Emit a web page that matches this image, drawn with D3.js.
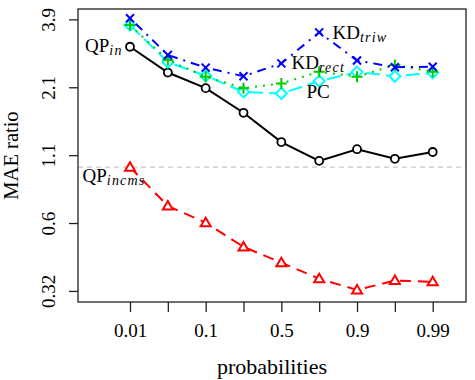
<!DOCTYPE html>
<html>
<head>
<meta charset="utf-8">
<script src="https://cdn.jsdelivr.net/npm/d3@7"></script>
<style>
    body { margin: 0; background: #fff; }
    text { font-family: "Liberation Serif", "DejaVu Serif", serif; fill: #000; }
</style>
</head>
<body>
<div id="chart"></div>
<script>
// chart values
var probs = ["0.01", "0.05", "0.1", "0.25", "0.5", "0.75", "0.9", "0.95", "0.99"];
var shownProbs = ["0.01", "0.1", "0.5", "0.9", "0.99"];
var yTicks = [0.32, 0.598, 1.117, 2.087, 3.9];
var yTickLabels = ["0.32", "0.6", "1.1", "2.1", "3.9"];

var qpIn = [3.03, 2.39, 2.07, 1.65, 1.26, 1.06, 1.18, 1.08, 1.15];
var qpIncms = [1.0, 0.70, 0.60, 0.48, 0.415, 0.358, 0.323, 0.352, 0.348];
var pc = [3.70, 2.63, 2.32, 2.00, 1.97, 2.21, 2.40, 2.31, 2.385];
var kdRect = [3.70, 2.68, 2.30, 2.07, 2.16, 2.41, 2.30, 2.56, 2.41];
var kdTriw = [3.94, 2.81, 2.50, 2.31, 2.60, 3.46, 2.67, 2.51, 2.52];

var svgWidth = 475;
var svgHeight = 380;

var box = { left: 78, right: 466, top: 9, bottom: 302 };

var svg = d3.select("#chart")
    .append("svg")
    .attr("width", svgWidth)
    .attr("height", svgHeight);

var xScale = d3.scaleLinear()
    .domain([0, probs.length - 1])
    .range([130, 432.7]);

var yScale = d3.scaleLog()
    .domain([0.289, 4.29])
    .range([box.bottom, box.top]);

// reference line at ratio 1
svg.append("line")
    .attr("x1", box.left)
    .attr("x2", box.right)
    .attr("y1", yScale(1))
    .attr("y2", yScale(1))
    .attr("stroke", "#c8c8c8")
    .attr("stroke-width", 1.3)
    .attr("stroke-dasharray", "5,4");

var series = [
    { values: qpIn, color: "#000000", dash: null, mark: "circle" },
    { values: qpIncms, color: "#ff0000", dash: "11,7", mark: "triangle" },
    { values: pc, color: "#00ffff", dash: "14,6", mark: "diamond" },
    { values: kdRect, color: "#00cd00", dash: "2,6", mark: "plus" },
    { values: kdTriw, color: "#0000ff", dash: "2,6,9,6", mark: "cross" }
];

function markPath(kind, cx, cy) {
    if (kind === "triangle") {
        return `M${cx - 5},${cy + 3.5}L${cx + 5},${cy + 3.5}L${cx},${cy - 5}Z`;
    }
    if (kind === "diamond") {
        return `M${cx},${cy - 5.5}L${cx + 5.5},${cy}L${cx},${cy + 5.5}L${cx - 5.5},${cy}Z`;
    }
    if (kind === "plus") {
        return `M${cx - 5.5},${cy}L${cx + 5.5},${cy}M${cx},${cy - 5.5}L${cx},${cy + 5.5}`;
    }
    // cross
    return `M${cx - 4},${cy - 4}L${cx + 4},${cy + 4}M${cx - 4},${cy + 4}L${cx + 4},${cy - 4}`;
}

var line = d3.line()
    .x((d, i) => xScale(i))
    .y(d => yScale(d));

series.forEach(s => {
    var path = svg.append("path")
        .datum(s.values)
        .attr("d", line)
        .attr("fill", "none")
        .attr("stroke", s.color)
        .attr("stroke-width", 2);
    if (s.dash) path.attr("stroke-dasharray", s.dash);

    if (s.mark === "circle") {
        svg.selectAll(null)
            .data(s.values)
            .enter()
            .append("circle")
            .attr("cx", (d, i) => xScale(i))
            .attr("cy", d => yScale(d))
            .attr("r", 4)
            .attr("fill", "#fff")
            .attr("stroke", s.color)
            .attr("stroke-width", 1.8);
    } else {
        svg.selectAll(null)
            .data(s.values)
            .enter()
            .append("path")
            .attr("d", (d, i) => markPath(s.mark, xScale(i), yScale(d)))
            .attr("fill", s.mark === "triangle" || s.mark === "diamond" ? "#fff" : "none")
            .attr("stroke", s.color)
            .attr("stroke-width", 2);
    }
});

// frame
svg.append("rect")
    .attr("x", box.left)
    .attr("y", box.top)
    .attr("width", box.right - box.left)
    .attr("height", box.bottom - box.top)
    .attr("fill", "none")
    .attr("stroke", "#222")
    .attr("stroke-width", 1.3);

// x axis
var xAxis = d3.axisBottom(xScale)
    .tickValues(d3.range(probs.length))
    .tickSize(10)
    .tickFormat((d, i) => shownProbs.includes(probs[i]) ? probs[i] : "");

var xAxisGroup = svg.append("g")
    .attr("transform", `translate(0, ${box.bottom})`)
    .call(xAxis);
xAxisGroup.select(".domain").remove();
xAxisGroup.selectAll("line").attr("stroke", "#222").attr("stroke-width", 1.3);
xAxisGroup.selectAll("text")
    .attr("y", 35)
    .attr("dy", 0)
    .style("font-size", "19px")
    .style("font-family", "Liberation Serif");

// y axis, labels turned like the original
var yAxis = d3.axisLeft(yScale)
    .tickValues(yTicks)
    .tickSize(9)
    .tickFormat((d, i) => yTickLabels[i]);

var yAxisGroup = svg.append("g")
    .attr("transform", `translate(${box.left}, 0)`)
    .call(yAxis);
yAxisGroup.select(".domain").remove();
yAxisGroup.selectAll("line").attr("stroke", "#222").attr("stroke-width", 1.3);
yAxisGroup.selectAll("text")
    .attr("x", 0)
    .attr("y", 0)
    .attr("dy", 0)
    .attr("text-anchor", "middle")
    .attr("transform", "translate(-23, 0) rotate(-90)")
    .style("font-size", "19px")
    .style("font-family", "Liberation Serif");

// axis titles
svg.append("text")
    .attr("x", (box.left + box.right) / 2)
    .attr("y", 374)
    .attr("text-anchor", "middle")
    .style("font-size", "22px")
    .text("probabilities");

svg.append("text")
    .attr("transform", `translate(18, ${(box.top + box.bottom) / 2}) rotate(-90)`)
    .attr("text-anchor", "middle")
    .style("font-size", "20.5px")
    .text("MAE ratio");

// series labels
var labels = [
    { main: "QP", sub: "in", x: 85, y: 52 },
    { main: "QP", sub: "incms", x: 82.5, y: 181.7 },
    { main: "KD", sub: "triw", x: 332.5, y: 38.5 },
    { main: "KD", sub: "rect", x: 291.5, y: 68.5 },
    { main: "PC", sub: "", x: 306.5, y: 98.3 }
];

labels.forEach(l => {
    var t = svg.append("text")
        .attr("x", l.x)
        .attr("y", l.y)
        .style("font-size", "19px");
    t.append("tspan").text(l.main);
    if (l.sub) {
        t.append("tspan")
            .attr("dy", 3)
            .style("font-size", "14px")
            .style("font-style", "italic")
            .style("letter-spacing", "1.2px")
            .text(l.sub);
    }
});
</script>
</body>
</html>
